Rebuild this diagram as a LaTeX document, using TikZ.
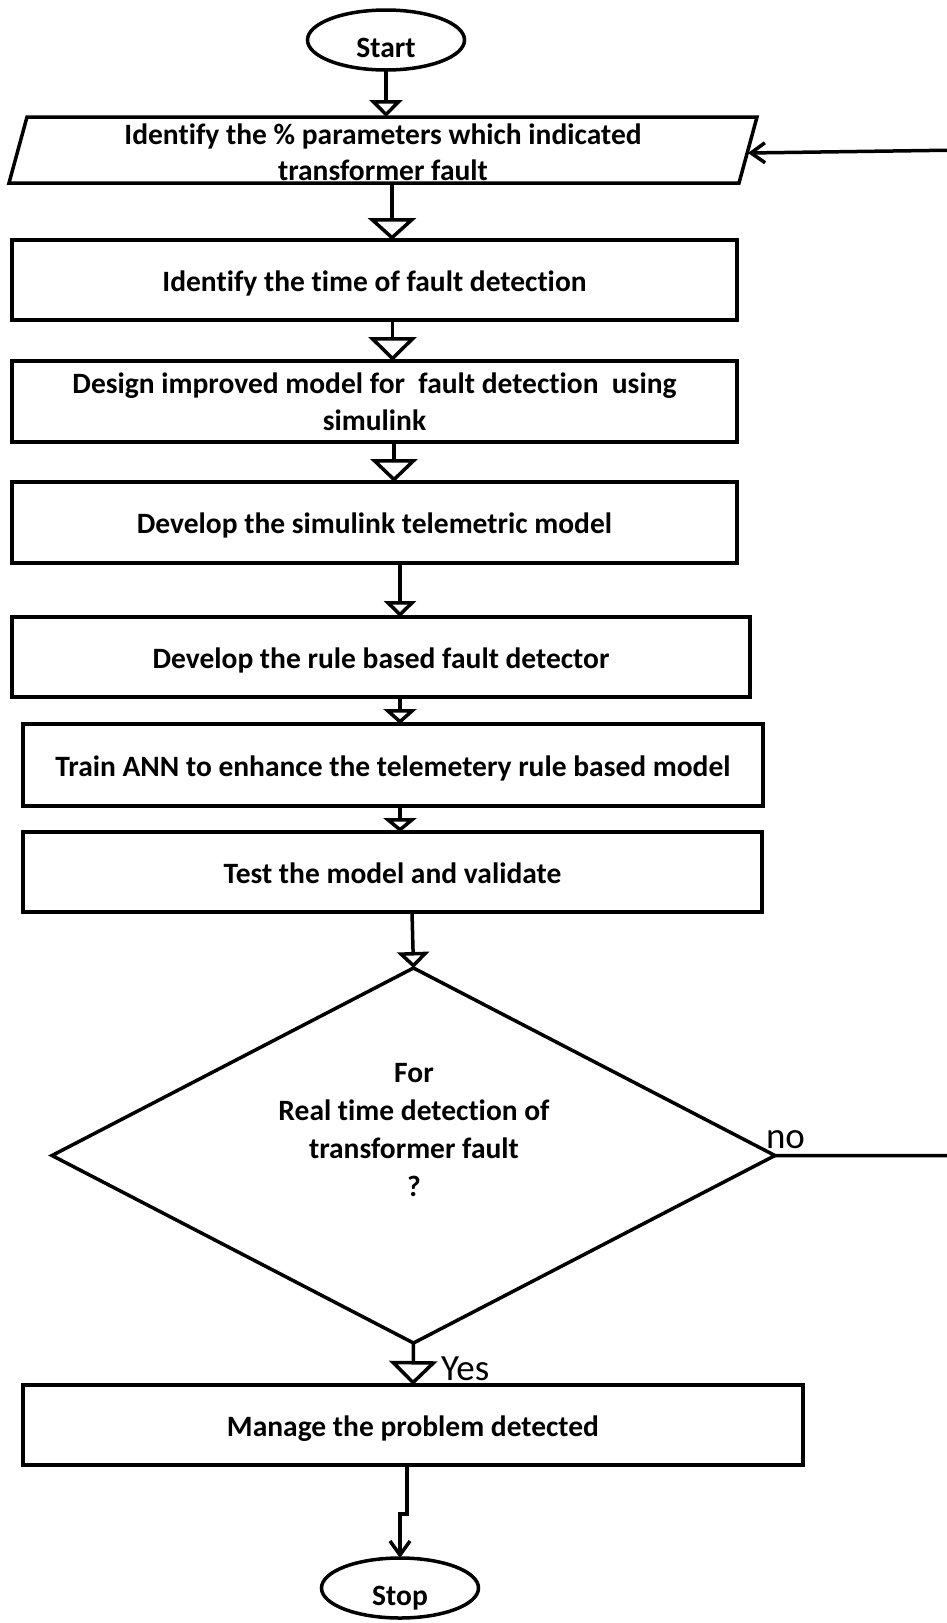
\documentclass[tikz,border=0pt]{standalone}
\usepackage{fontspec}
\setmainfont{Carlito}[Ligatures=NoCommon]
\usetikzlibrary{shapes.geometric,arrows.meta}
\newcommand\boldtxt{\fontsize{29.5}{37}\selectfont\bfseries}
\newcommand\lbltxt{\fontsize{37}{44}\selectfont}
\begin{document}
\begin{tikzpicture}[x=1pt,y=-1pt,
  every node/.style={inner sep=0pt, outer sep=0pt},
  proc/.style={draw, line width=3.5pt, rectangle, font=\boldtxt, align=center},
  single/.style={text height=24pt, text depth=2pt},
  term/.style={draw, ellipse, line width=3.5pt, minimum width=157pt, minimum height=60pt, font=\boldtxt},
  flow/.style={line width=3.5pt},
  tri/.style 2 args={flow, -{Triangle[width=#1pt, length=#2pt, fill=white]}},
  barb/.style={flow, -{Straight Barb[width=20pt, length=14pt]}}]
\useasboundingbox (0,0) rectangle (947,1623);
\clip (0,0) rectangle (947,1623);
\fill[white] (0,0) rectangle (947,1623);

% nodes
\node[term] (start) at (386,40) {\smash{\raisebox{-17pt}{Start}}};
\node[font=\boldtxt, minimum width=730pt, minimum height=66pt] (para) at (383,150)
  {\smash{\raisebox{-30pt}{\fontsize{29.5}{36}\selectfont\begin{tabular}[b]{@{}c@{}}Identify the \% parameters which indicated\\ transformer fault\end{tabular}}}};
\draw[line width=3.5pt] ([xshift=9pt]para.north west) -- ([xshift=9pt]para.north east)
  -- ([xshift=-9pt]para.south east) -- ([xshift=-9pt]para.south west) -- cycle;
\node[proc, single, minimum width=725pt, minimum height=80pt] (r2) at (374.5,280) {Identify the time of fault detection};
\node[proc, minimum width=725pt, minimum height=81pt] (r3) at (374.5,401.5) {Design improved model for\ \ fault detection\ \ using\\ simulink};
\node[proc, single, minimum width=725pt, minimum height=81pt] (r4) at (374.5,522.5) {Develop the simulink telemetric model};
\node[proc, single, minimum width=738pt, minimum height=80pt] (r5) at (381,657) {Develop the rule based fault detector};
\node[proc, single, minimum width=740pt, minimum height=82pt] (r6) at (393,765) {Train ANN to enhance the telemetery rule based model};
\node[proc, single, minimum width=739pt, minimum height=80pt] (r7) at (392.5,872) {Test the model and validate};
\node[draw, diamond, line width=3.5pt, minimum width=723pt, minimum height=375pt, aspect=1.93] (dec) at (413.5,1155.5) {};
\node[font=\fontsize{29.5}{38}\selectfont\bfseries, align=center] (dectext) at (414,1130)
  {For\\ Real time detection of\\ transformer fault\\ ?};
\node[proc, single, minimum width=780pt, minimum height=80pt] (r8) at (413,1425) {Manage the problem detected};
\node[term] (stop) at (400,1588) {\smash{\raisebox{-17pt}{Stop}}};
\node[font=\lbltxt, anchor=base west] (no) at (766,1148) {no};
\node[font=\lbltxt, anchor=base west] (yes) at (441,1380) {Yes};
\coordinate (edge) at (965,0);

% connectors
\draw[tri={33}{17}] (start.south) -- ([xshift=3pt]para.north);
\draw[tri={48}{22}] ([xshift=9pt]para.south) -- ([xshift=17.5pt]r2.north);
\draw[tri={48}{24}] ([xshift=18pt]r2.south) -- ([xshift=18pt]r3.north);
\draw[tri={47}{23}] ([xshift=19.5pt]r3.south) -- ([xshift=19.5pt]r4.north);
\draw[tri={32}{16}] ([xshift=25.5pt]r4.south) -- ([xshift=19pt]r5.north);
\draw[tri={33}{15}] ([xshift=19pt]r5.south) -- ([xshift=7pt]r6.north);
\draw[tri={33}{14}] ([xshift=7pt]r6.south) -- ([xshift=7.5pt]r7.north);
\draw[tri={32}{16}] ([xshift=19.5pt]r7.south) -- (dec.north);
\draw[tri={48}{24}] (dec.south) -- (r8.north);
\draw[barb] ([xshift=-6pt]r8.south) -- ++(0,49) -| (stop.north);
\draw[barb] (dec.east) -- (dec.east -| edge) -- (para.east -| edge) -- ([yshift=-3pt]para.east);
\end{tikzpicture}
\end{document}
